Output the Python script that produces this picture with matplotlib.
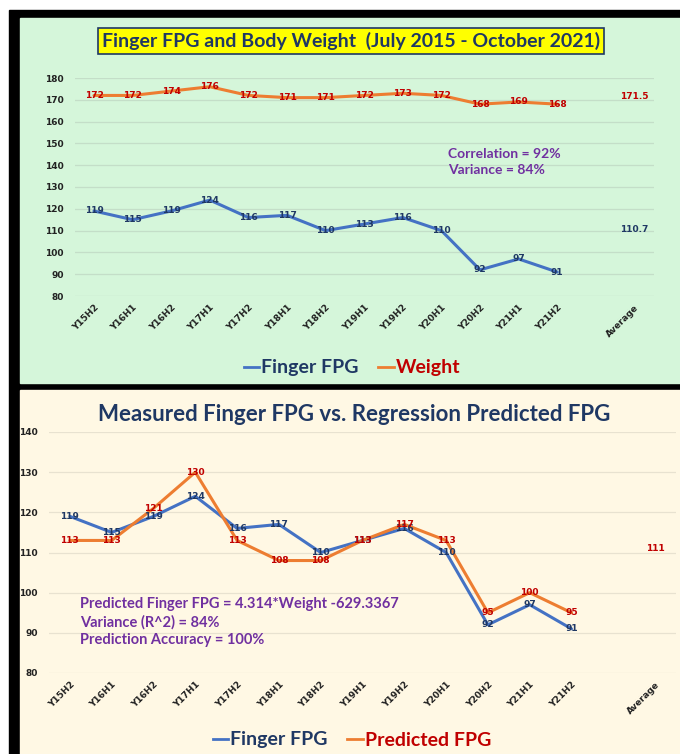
import numpy as np
import matplotlib.pyplot as plt
from matplotlib.patches import Rectangle
from matplotlib.lines import Line2D

# data
cats = ['Y15H2', 'Y16H1', 'Y16H2', 'Y17H1', 'Y17H2', 'Y18H1', 'Y18H2',
        'Y19H1', 'Y19H2', 'Y20H1', 'Y20H2', 'Y21H1', 'Y21H2', '', 'Average']
fpg = [119, 115, 119, 124, 116, 117, 110, 113, 116, 110, 92, 97, 91]
fpg_avg = 110.7
weight = [172, 172, 174, 176, 172, 171, 171, 172, 173, 172, 168, 169, 168]
weight_avg = 171.5
predicted = [113, 113, 121, 130, 113, 108, 108, 113, 117, 113, 95, 100, 95]
predicted_avg = 111

BLUE = '#4472C4'
ORANGE = '#ED7D31'
NAVY = '#1F3864'
RED = '#C00000'
PURPLE = '#7030A0'
TITLE_FONT = ['Lato', 'DejaVu Sans']

W, H = 680, 754
fig = plt.figure(figsize=(W / 100, H / 100), dpi=100)
fig.patch.set_facecolor('white')


def px_rect(x0, y0, x1, y1, color):
    # rectangle given in pixel coords (y from top)
    fig.patches.append(Rectangle((x0 / W, 1 - y1 / H), (x1 - x0) / W, (y1 - y0) / H,
                                 transform=fig.transFigure, color=color, zorder=-10))


# frame / panels
px_rect(9, 10, W, H, 'black')
px_rect(20, 18, W, 383, '#D5F6DA')
px_rect(20, 390, W, H, '#FFF8E4')


def series_plot(ax, values, avg, color, label_color):
    x = np.arange(len(cats))
    y = np.full(len(cats), np.nan)
    y[:len(values)] = values
    if avg is not None:
        y[-1] = avg
    ax.plot(x, y, color=color, lw=2.2, solid_capstyle='round', zorder=3)
    for xi, yi in zip(x, y):
        if np.isnan(yi):
            continue
        ax.text(xi, yi, f'{yi:g}', color=label_color, fontsize=6.5, fontweight='bold',
                ha='center', va='center', zorder=4)


def style_axes(ax, ylim, step, grid_color):
    ax.set_zorder(5)
    ax.set_facecolor('none')
    ax.set_xlim(-0.5, len(cats) - 0.5)
    ax.set_ylim(*ylim)
    ax.set_yticks(np.arange(ylim[0], ylim[1] + 1, step))
    ax.set_xticks(np.arange(len(cats)))
    ax.set_xticklabels(cats, rotation=45, ha='right', rotation_mode='anchor')
    for s in ax.spines.values():
        s.set_visible(False)
    ax.tick_params(length=0, labelsize=6.5, colors='#222222')
    ax.tick_params(axis='y', pad=8)
    ax.tick_params(axis='x', pad=5)
    for t in ax.get_xticklabels() + ax.get_yticklabels():
        t.set_fontweight('bold')
    ax.grid(axis='y', color=grid_color, lw=0.9, zorder=1)
    ax.set_axisbelow(True)


# top chart
ax1 = fig.add_axes([74.7 / W, 1 - 296 / H, 579 / W, 218 / H])
style_axes(ax1, (80, 180), 10, '#C4DEC8')
series_plot(ax1, fpg, fpg_avg, BLUE, NAVY)
series_plot(ax1, weight, weight_avg, ORANGE, RED)
ax1.text(0.645, 0.615, 'Correlation = 92%\nVariance = 84%', transform=ax1.transAxes,
         color=PURPLE, fontsize=10, fontweight='bold', family=TITLE_FONT,
         ha='left', va='center', linespacing=1.4)

fig.text(351 / W, 1 - 41 / H, 'Finger FPG and Body Weight  (July 2015 - October 2021)',
         color=NAVY, fontsize=14, fontweight='bold', family=TITLE_FONT,
         ha='center', va='center',
         bbox=dict(boxstyle='square,pad=0.2', fc='#FFFF00', ec=NAVY, lw=1.2))

# bottom chart
ax2 = fig.add_axes([49 / W, 1 - 673 / H, 627 / W, 241 / H])
style_axes(ax2, (80, 140), 10, '#E8E2D0')
series_plot(ax2, fpg, None, BLUE, NAVY)
series_plot(ax2, predicted, predicted_avg, ORANGE, RED)
ax2.text(0.05, 0.212,
         'Predicted Finger FPG = 4.314*Weight -629.3367\nVariance (R^2) = 84%\nPrediction Accuracy = 100%',
         transform=ax2.transAxes, color=PURPLE, fontsize=10.5, fontweight='bold',
         family=TITLE_FONT, ha='left', va='center', linespacing=1.3)

fig.text(354 / W, 1 - 414 / H, 'Measured Finger FPG vs. Regression Predicted FPG',
         color=NAVY, fontsize=16, fontweight='bold', family=TITLE_FONT,
         ha='center', va='center')


def legend(y_px, x_center_px, names, colors, text_colors):
    handles = [Line2D([], [], color=c, lw=2) for c in colors]
    leg = fig.legend(handles, names, loc='center', bbox_to_anchor=(x_center_px / W, 1 - y_px / H),
                     ncol=len(names), frameon=False, handlelength=0.8, handletextpad=0.1,
                     columnspacing=1.0, prop=dict(family=TITLE_FONT, size=14, weight='bold'))
    for t, c in zip(leg.get_texts(), text_colors):
        t.set_color(c)


legend(368, 352, ['Finger FPG', 'Weight'], [BLUE, ORANGE], [NAVY, RED])
legend(740, 352, ['Finger FPG', 'Predicted FPG'], [BLUE, ORANGE], [NAVY, RED])

fig.savefig('out.png', dpi=100)
